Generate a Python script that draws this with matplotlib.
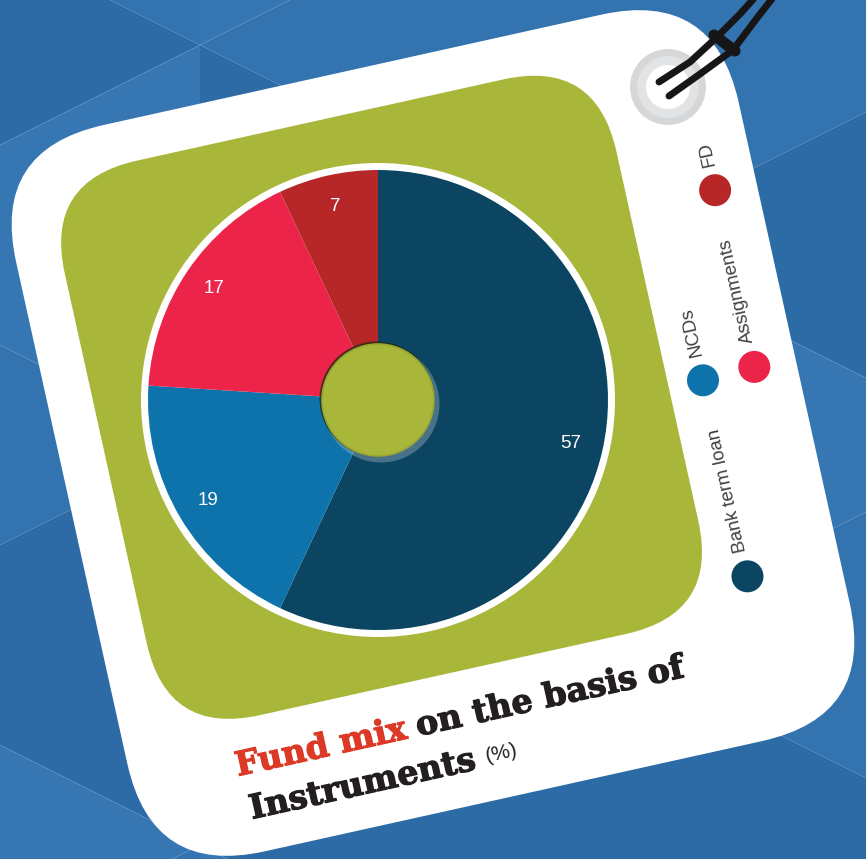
import numpy as np
import matplotlib
matplotlib.use("Agg")
from matplotlib import pyplot as plt
from matplotlib import patheffects as pe
from matplotlib.patches import FancyBboxPatch, Circle, Polygon
from matplotlib.transforms import Affine2D

# data
labels = ["Bank term loan", "NCDs", "Assignments", "FD"]
shares = [57, 19, 17, 7]
colors = ["#0B4561", "#0E73AA", "#EC2449", "#B72727"]

W, H = 866, 859
ANG = 12.5  # tag tilt (deg, counter-clockwise)
TAG_C = (433, H - 433)

fig = plt.figure(figsize=(W / 100, H / 100), dpi=100)
ax = fig.add_axes([0, 0, 1, 1])


def img(x, y):
    # image pixel coords (y down) -> data coords (y up)
    return (x, H - y)


def loc(u, v):
    # tag-local coords -> data coords
    c, s = np.cos(np.radians(ANG)), np.sin(np.radians(ANG))
    return (TAG_C[0] + u * c - v * s, TAG_C[1] + u * s + v * c)


# background facets
tones = ["#2D6BA7", "#3677B3", "#3273B0"]
a, b, x0, y0 = 400, 400, 200, 45
for i in range(-1, 3):
    xl, xr = x0 + a * i, x0 + a * (i + 1)
    for j in range(-2, 4):
        yl = y0 + b * j + (b / 2) * (i % 2)
        yr = yl + b / 2
        t1 = [img(xl, yl), img(xr, yr), img(xl, yl + b)]
        t2 = [img(xr, yr), img(xl, yl + b), img(xr, yr + b)]
        ax.add_patch(Polygon(t1, closed=True, fc=tones[(i + 2 * j) % 3], ec="none", zorder=0))
        ax.add_patch(Polygon(t2, closed=True, fc=tones[(i + 2 * j + 1) % 3], ec="none", zorder=0))

rot = Affine2D().rotate_deg_around(TAG_C[0], TAG_C[1], ANG) + ax.transData

# white tag
tag = FancyBboxPatch((TAG_C[0] - 370, TAG_C[1] - 372), 740, 744,
                     boxstyle="round,pad=0,rounding_size=115",
                     fc="white", ec="none", zorder=1, transform=rot)
ax.add_patch(tag)

# green panel
panel = FancyBboxPatch((TAG_C[0] - 325, TAG_C[1] - 238), 565, 568,
                       boxstyle="round,pad=0,rounding_size=95",
                       fc="#A8B63A", ec="none", zorder=2, transform=rot)
ax.add_patch(panel)

# pie
pc = img(378, 400)
ax.add_patch(Circle(pc, 237, fc="white", ec="none", zorder=4))
wedges, texts, autotexts = ax.pie(
    shares, colors=colors, startangle=90, counterclock=False,
    center=pc, radius=230, autopct=lambda p: f"{p:.0f}", pctdistance=0.86,
    wedgeprops=dict(linewidth=0, zorder=5),
    textprops=dict(color="white", fontsize=13.5, family="Liberation Sans", zorder=8))

# centre disc with shadow / glow
ax.add_patch(Circle((pc[0] + 3, pc[1] - 4), 58.5, fc="#b9c8d2", alpha=0.35, ec="none", zorder=6))
ax.add_patch(Circle((pc[0] - 1, pc[1] + 1), 57.5, fc="#1f2a0c", alpha=0.75, ec="none", zorder=6))
ax.add_patch(Circle(pc, 56, fc="#A8B63A", ec="#99A633", lw=1.2, zorder=7))

# hole and cord
hc = img(668, 87)
ax.add_patch(Circle(hc, 38, fc="#D6D7D9", ec="none", zorder=3))
ax.add_patch(Circle(hc, 31, fc="#E2E3E4", ec="none", zorder=3))
ax.add_patch(Circle(hc, 22, fc="white", ec="none", zorder=3))
strand_a = [img(659, 82), img(690, 62), img(716, 38), img(740, 14), img(757, -5)]
strand_b = [img(669, 96), img(700, 74), img(733, 50), img(757, 18), img(775, -5)]
for st in (strand_a, strand_b):
    xs, ys = zip(*st)
    ax.plot(xs, ys, color="#161616", lw=5, solid_capstyle="round",
            solid_joinstyle="round", zorder=9)
kx, ky = zip(img(714, 35), img(735, 51))
ax.plot(kx, ky, color="#161616", lw=8, solid_capstyle="round", zorder=9)

# legend
legend_uv = {"FD": (328, 176), "Assignments": (328, -5),
             "NCDs": (275, -7), "Bank term loan": (276, -208)}
for name, col in zip(labels, colors):
    u, v = legend_uv[name]
    ax.add_patch(Circle(loc(u, v), 16, fc=col, ec="none", zorder=8))
    ax.text(*loc(u, v + 25), name, rotation=90 + ANG, rotation_mode="anchor",
            ha="left", va="center", fontsize=13.5, family="Liberation Sans",
            color="#404040", zorder=8)

# title
renderer = fig.canvas.get_renderer()


def width(s, **kw):
    t = ax.text(0, 0, s, **kw)
    w = t.get_window_extent(renderer=renderer).width
    t.remove()
    return w


tkw = dict(fontsize=24, family="DejaVu Serif", weight="bold")
d = np.array([np.cos(np.radians(ANG)), np.sin(np.radians(ANG))])
red, ink = "#DC3A26", "#231F20"
stroke = 0.9
p1 = np.array(img(238, 776))
ax.text(*p1, "Fund mix", rotation=ANG, rotation_mode="anchor", ha="left",
        va="baseline", color=red, zorder=8,
        path_effects=[pe.withStroke(linewidth=stroke, foreground=red)], **tkw)
w1 = width("Fund mix", **tkw) + 10
ax.text(*(p1 + w1 * d), "on the basis of", rotation=ANG, rotation_mode="anchor",
        ha="left", va="baseline", color=ink, zorder=8,
        path_effects=[pe.withStroke(linewidth=stroke, foreground=ink)], **tkw)
p2 = np.array(img(252, 819))
ax.text(*p2, "Instruments", rotation=ANG, rotation_mode="anchor", ha="left",
        va="baseline", color=ink, zorder=8,
        path_effects=[pe.withStroke(linewidth=stroke, foreground=ink)], **tkw)
w2 = width("Instruments", **tkw) + 10
ax.text(*(p2 + w2 * d + np.array([0, 5])), "(%)", rotation=ANG, rotation_mode="anchor",
        ha="left", va="baseline", color=ink, fontsize=15,
        family="Liberation Sans", zorder=8)

ax.set_xlim(0, W)
ax.set_ylim(0, H)
ax.set_aspect("equal")
ax.axis("off")

fig.savefig("out.png", dpi=100)
